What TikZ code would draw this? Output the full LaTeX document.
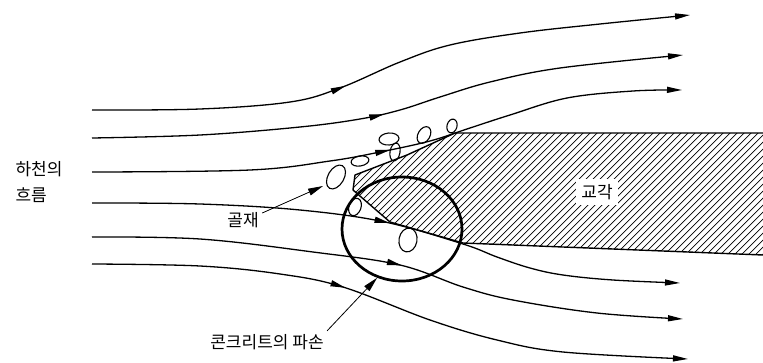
\documentclass[tikz,border=0pt]{standalone}
\usepackage{fontspec}
\setmainfont{Noto Sans CJK KR}
\usetikzlibrary{arrows.meta,decorations.markings,shapes.geometric}

\begin{document}
\begin{tikzpicture}[x=1pt, y=-1pt, >={Triangle[length=15pt,width=6pt]},
  every node/.style={font=\fontsize{17}{20}\selectfont},
  flow/.style={line width=1.3pt, ->, decoration={markings, mark=at position #1 with {\arrow{>}}}, postaction={decorate}},
  ptr/.style={line width=0.8pt, -{Triangle[length=15pt,width=7pt]}},
  grain/.style={line width=1.1pt},
  hatch/.style={line width=0.7pt}]
\useasboundingbox (0,0) rectangle (763,362);
% pier, hatched
\begin{scope}
  \clip (763,133) -- (455,133) -- (407,155) -- (355,175) -- (353,190) -- (390,222) -- (463,243) -- (763,255) -- cycle;
  \foreach \i in {250,257,...,770} {\draw[hatch] (\i,270) -- ++(170,-170);}
\end{scope}
\draw[line width=1.4pt, line join=round] (763,133) -- (455,133) -- (407,155) -- (355,175) -- (353,190) -- (390,222) -- (463,243) -- (763,255);
\node[fill=white, inner sep=5pt] (pier) at (597,192) {교각};
% stream lines
\draw[flow=0.42] plot[smooth, tension=0.6] coordinates {(92,110) (200,109) (290,102) (340,88) (400,62) (450,45) (520,33) (600,24) (690,15)};
\draw[flow=0.49] plot[smooth, tension=0.6] coordinates {(92,138) (200,135) (300,127) (360,119) (400,110) (440,97) (490,82) (560,68) (683,55)};
\draw[flow=0.50] plot[smooth, tension=0.6] coordinates {(92,172) (250,170) (330,161) (380,152) (430,141) (470,128) (510,115) (567,98) (633,91) (682,90)};
\draw[flow=0.50] plot[smooth, tension=0.6] coordinates {(92,203) (200,204) (300,210) (385,222) (463,244) (497,257) (530,268) (563,275) (613,280) (680,283)};
\draw[flow=0.52] plot[smooth, tension=0.6] coordinates {(92,237) (200,239) (313,252) (400,265) (463,287) (513,300) (597,313) (683,319)};
\draw[flow=0.42] plot[smooth, tension=0.6] coordinates {(92,264) (200,266) (280,274) (343,287) (430,320) (497,340) (563,352) (688,359)};
% scour zone
\node[draw, ellipse, line width=2.7pt, minimum width=120, minimum height=104, inner sep=0pt] (scour) at (402,229) {};
% loose aggregate
\foreach \x/\y/\a/\b/\r in {336/177/13/8/60, 360/161/9/5/10, 389/139/10/6/5, 395/152/9/5/80, 424/135/9/6/60, 452/126/7/5/75, 355/207/9/6/70, 408/240/12/9/80}
  {\draw[grain, rotate around={\r:(\x,\y)}] (\x,\y) ellipse [x radius=\a, y radius=\b];}
% labels
\node[anchor=west] (river) at (12,169) {하천의};
\node[anchor=west] (riverflow) at (12,195) {흐름};
\node (agg) at (243,220) {골재};
\node (dmg) at (267,342) {콘크리트의 파손};
\coordinate (graintip) at (323,186);
\draw[ptr] (agg.20) -- (graintip);
\draw[ptr] (dmg.north east) -- (scour.243);
\end{tikzpicture}
\end{document}
